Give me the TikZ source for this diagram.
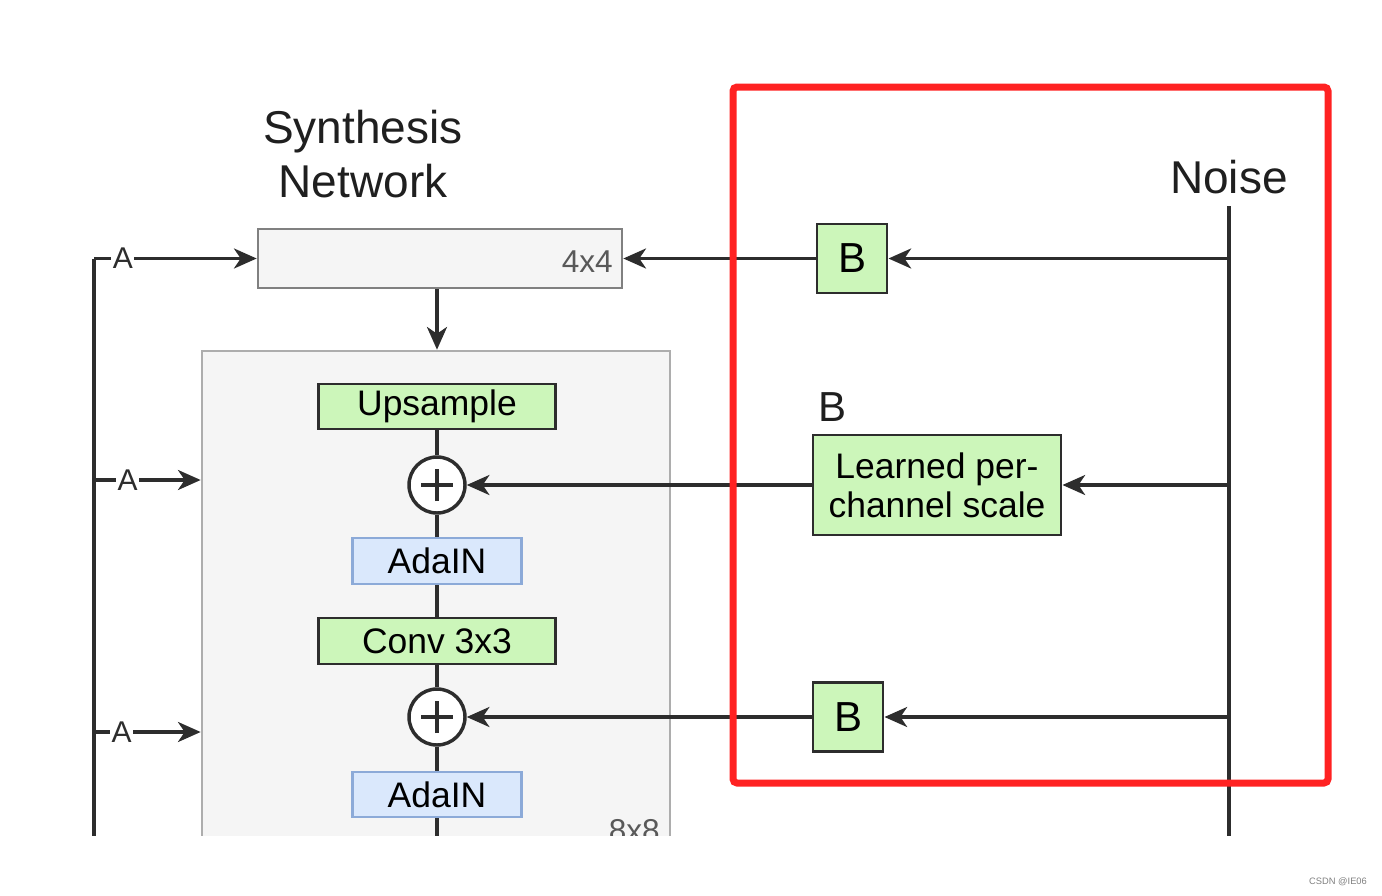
\documentclass[tikz,border=0pt]{standalone}
\usepackage{fontspec}
\setmainfont{Liberation Sans}
\usetikzlibrary{arrows.meta}
\definecolor{gfill}{RGB}{204,246,186}
\definecolor{bfill}{RGB}{218,232,252}
\definecolor{bline}{RGB}{140,170,216}
\definecolor{boxfill}{RGB}{245,245,245}
\definecolor{redbox}{RGB}{255,34,34}
\definecolor{ink}{RGB}{45,45,45}
\tikzset{
  arr/.style={draw=ink, line width=2.5pt, -{Stealth[length=17pt,width=15pt,inset=5pt]}},
  conn/.style={draw=ink, line width=2.5pt},
  gbox/.style={draw=ink, fill=gfill, line width=2.2pt, inner sep=0pt, font=\fontsize{26.6pt}{30pt}\selectfont},
  bbox/.style={draw=bline, fill=bfill, line width=2.2pt, inner sep=0pt, font=\fontsize{26.6pt}{30pt}\selectfont},
  plusnode/.style={circle, draw=ink, fill=white, line width=2.6pt, minimum size=42pt, inner sep=0pt},
  alabel/.style={fill=white, inner sep=1pt, text=ink, font=\fontsize{22.5pt}{26pt}\selectfont},
  blabel/.style={font=\fontsize{31.5pt}{36pt}\selectfont, text=black!88},
  big/.style={font=\fontsize{34.5pt}{41pt}\selectfont, text=black!88},
  sizelbl/.style={font=\fontsize{23.7pt}{28pt}\selectfont, text=black!65, inner sep=0pt}
}
\begin{document}
\begin{tikzpicture}[x=0.75pt,y=-0.75pt]
\useasboundingbox (0,0) rectangle (1382,896);
\begin{scope}
\clip (0,0) rectangle (1382,835);
% big block
\node[draw=black!32, fill=boxfill, line width=2pt, minimum width=351pt, minimum height=411.75pt, inner sep=0pt] (blk) at (436,625.5) {};
\node[sizelbl, anchor=base east] (s8) at (660,841) {8x8};
% title
\node[big, align=center] (syn) at (363,154) {Synthesis\\Network};
% 4x4 box
\node[draw=black!50, fill=boxfill, line width=2pt, minimum width=273pt, minimum height=44.25pt, inner sep=0pt] (four) at (440,258.5) {};
\node[sizelbl, anchor=base east] (s4) at (613,272) {4x4};
% inner nodes
\node[gbox, minimum width=177.75pt, minimum height=33.75pt] (ups) at (437,406.5) {Upsample};
\node[plusnode] (p1) at (437,485) {};
\node[bbox, minimum width=126.75pt, minimum height=34.5pt] (ada1) at (437,561) {AdaIN};
\node[gbox, minimum width=177.75pt, minimum height=34.5pt] (conv) at (437,641) {Conv 3x3};
\node[plusnode] (p2) at (437,717) {};
\node[bbox, minimum width=126.75pt, minimum height=33.75pt] (ada2) at (437,794.5) {AdaIN};
\coordinate (cbot) at (437,840);
\foreach \p in {p1,p2}{
  \draw[ink, line width=2.8pt] ([xshift=-12pt]\p.center) -- ([xshift=12pt]\p.center);
  \draw[ink, line width=2.8pt] ([yshift=-12pt]\p.center) -- ([yshift=12pt]\p.center);
}
\draw[conn] (ups.south) -- (p1.north);
\draw[conn] (p1.south) -- (ada1.north);
\draw[conn] (ada1.south) -- (conv.north);
\draw[conn] (conv.south) -- (p2.north);
\draw[conn] (p2.south) -- (ada2.north);
\draw[conn] (ada2.south) -- (cbot);
\draw[arr] (four.south -| ups.center) -- (blk.north -| ups.center);
% left A lines
\coordinate (lt) at (94,258.5);
\coordinate (lb) at (94,840);
\coordinate (l2) at (94,480);
\coordinate (l3) at (94,732);
\draw[conn] (lb) -- (lt);
\draw[arr] (lt) -- node[alabel, pos=0.177] (a1) {A} (four.west);
\draw[arr] (l2) -- node[alabel, pos=0.315] (a2) {A} (l2 -| blk.west);
\draw[arr] (l3) -- node[alabel, pos=0.26] (a3) {A} (l3 -| blk.west);
% noise side
\node[big, anchor=base] (noise) at (1229,193) {Noise};
\coordinate (ntop) at (1229,206);
\coordinate (nbot) at (1229,840);
\draw[conn] (ntop) -- (nbot);
\node[gbox, minimum width=52.5pt, minimum height=51.75pt, font=\fontsize{31.5pt}{36pt}\selectfont] (b1) at (852,258.5) {B};
\node[gbox, align=center, minimum width=186pt, minimum height=75pt, font=\fontsize{26.6pt}{30pt}\selectfont] (learn) at (937,485) {Learned per-\\[-1pt]channel scale};
\node[blabel, anchor=base] (bl) at (832,421) {B};
\node[gbox, minimum width=52.5pt, minimum height=51.75pt, font=\fontsize{31.5pt}{36pt}\selectfont] (b3) at (848,717) {B};
\coordinate (n1) at (1229,258.5);
\coordinate (n2) at (1229,485);
\coordinate (n3) at (1229,717);
\draw[arr] (n1) -- (b1.east);
\draw[arr] (b1.west) -- (four.east);
\draw[arr] (n2) -- (learn.east);
\draw[arr] (learn.west) -- (p1.east);
\draw[arr] (n3) -- (b3.east);
\draw[arr] (b3.west) -- (p2.east);
% red frame
\draw[redbox, line width=5.25pt, rounded corners=3pt] (733,87) rectangle (1328,783);
\end{scope}
\node[font=\fontsize{7pt}{8pt}\selectfont, text=black!50] (wm) at (1338,882) {CSDN @IE06};
\end{tikzpicture}
\end{document}
